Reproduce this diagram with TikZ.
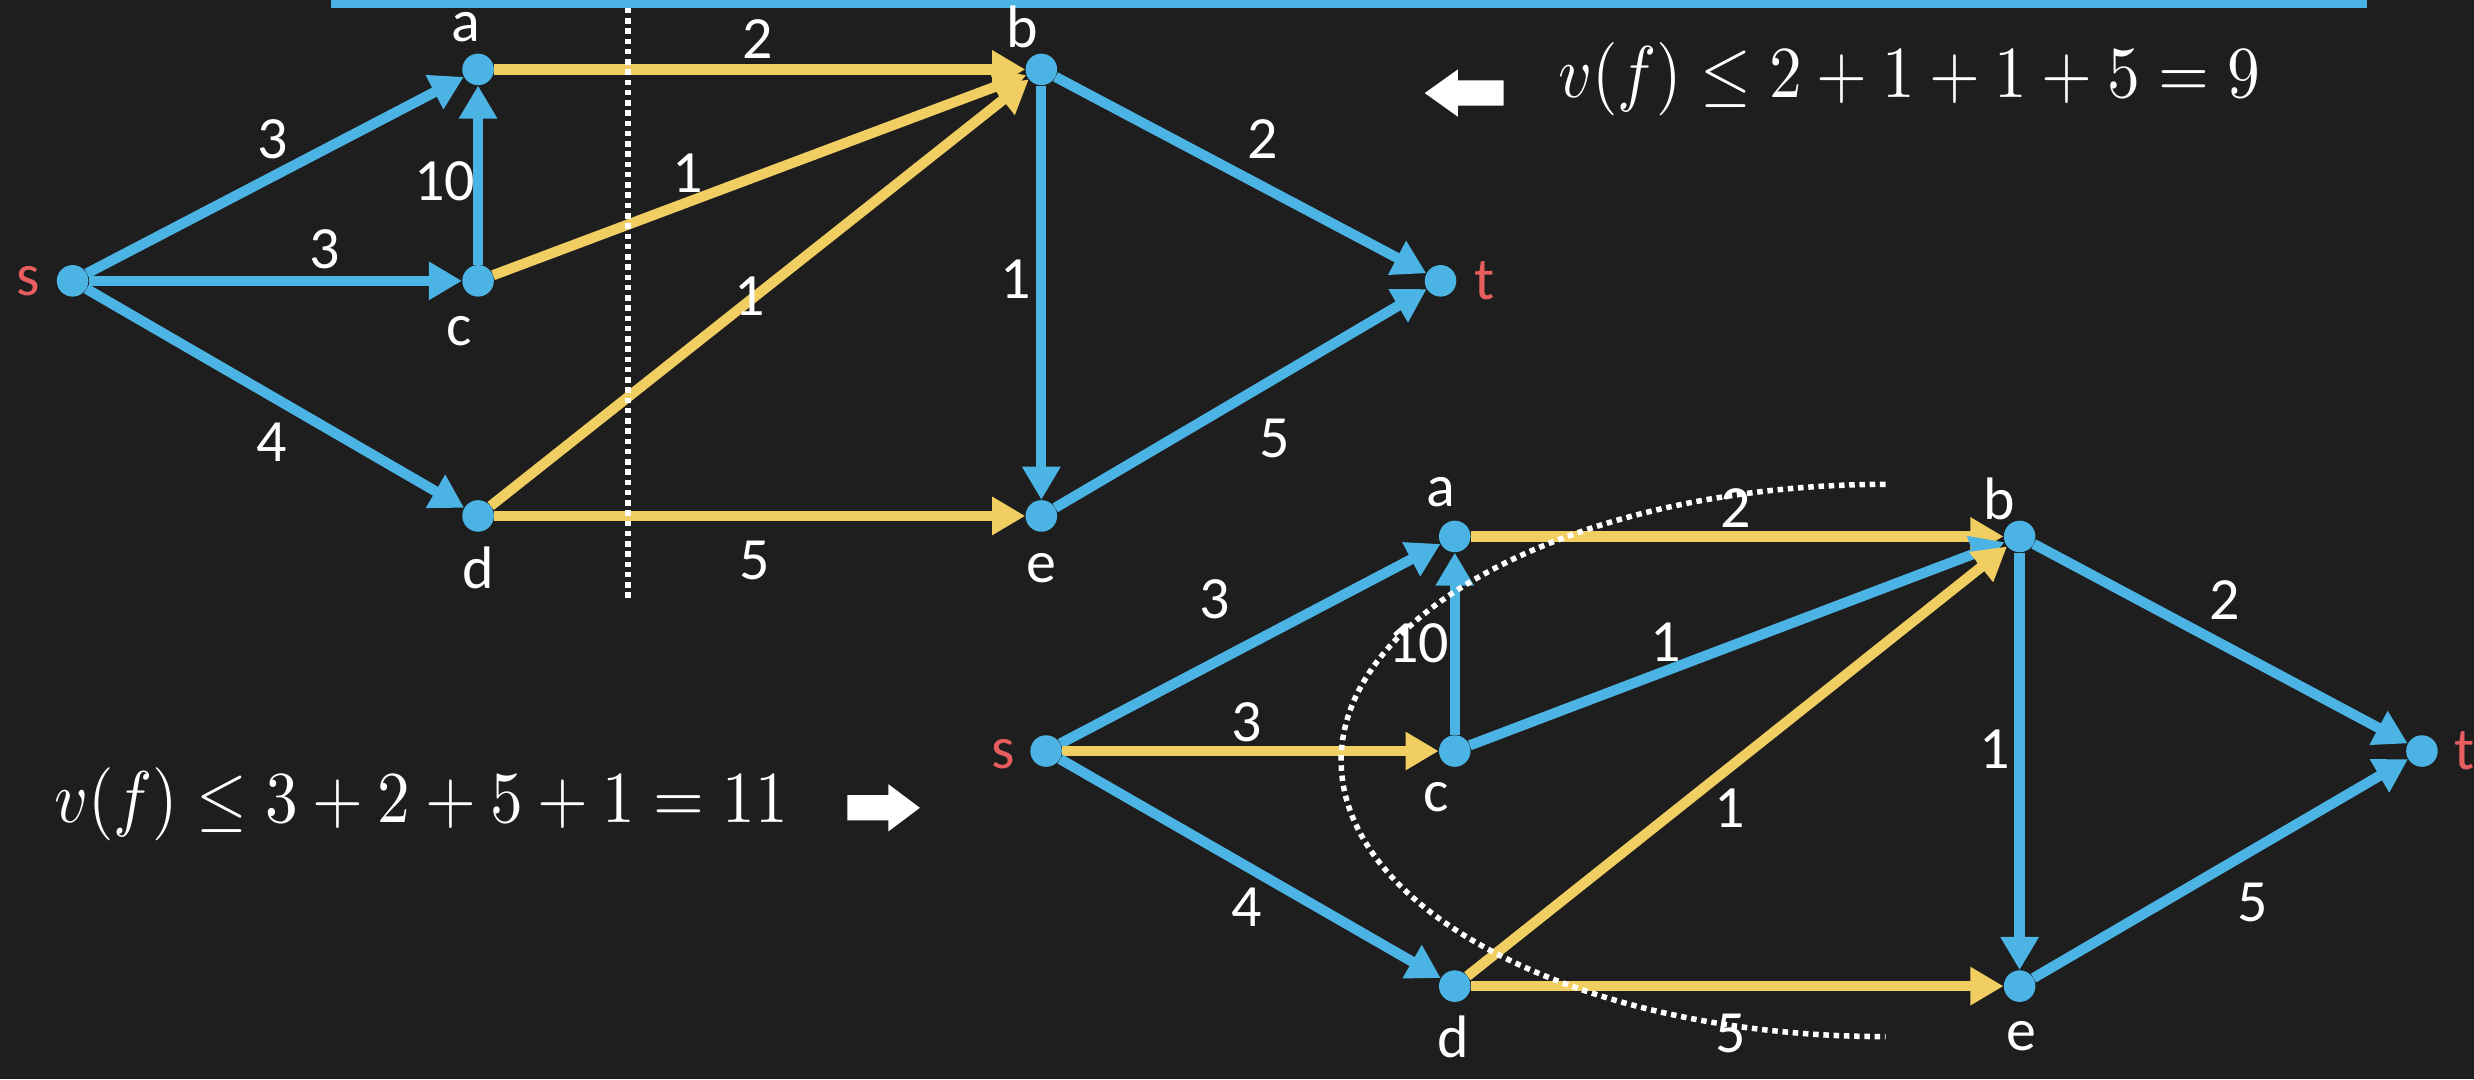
\documentclass[tikz,border=0pt]{standalone}
\usepackage{fontspec}
\newfontfamily\lab{Carlito}
\usetikzlibrary{arrows.meta}
\definecolor{bg}{RGB}{30,30,30}
\definecolor{eblue}{RGB}{76,180,228}
\definecolor{eyel}{RGB}{241,206,98}
\definecolor{sred}{RGB}{232,94,94}
\begin{document}
\begin{tikzpicture}[x=1pt,y=-1pt,
 vtx/.style={circle,fill=eblue,inner sep=0pt,minimum size=20pt},
 be/.style={draw=eblue,line width=6.5pt,-{Triangle[length=21pt,width=23pt]}},
 ye/.style={draw=eyel,line width=6.5pt,-{Triangle[length=21pt,width=23pt]}},
 vl/.style={text=white,font=\lab\fontsize{38}{40}\selectfont,inner sep=0pt},
 tl/.style={vl,text=sred},
 dots/.style={draw=white,line width=3.5pt,dash pattern=on 3.5pt off 3pt},
 frm/.style={text=white,inner sep=0pt}]
\fill[bg] (0,0) rectangle (1568,684);
\useasboundingbox (0,0) rectangle (1568,684);
\fill[eblue] (210,0) rectangle (1500,5);
% ---------- top graph ----------
\node[vtx] (s1) at (46,178) {};
\node[vtx] (a1) at (303,44) {};
\node[vtx] (c1) at (303,178) {};
\node[vtx] (d1) at (303,327) {};
\node[vtx] (b1) at (660,44) {};
\node[vtx] (e1) at (660,327) {};
\node[vtx] (t1) at (913,178) {};
\draw[be] (s1) -- (a1);
\draw[be] (s1) -- (c1);
\draw[be] (s1) -- (d1);
\draw[be] (c1) -- (a1);
\draw[ye] (a1) -- (b1);
\draw[ye] (c1) -- (b1);
\draw[ye] (d1) -- (b1);
\draw[ye] (d1) -- (e1);
\draw[be] (b1) -- (e1);
\draw[be] (b1) -- (t1);
\draw[be] (e1) -- (t1);
\node[tl] (ls1) at (18,178) {s};
\node[tl] (lt1) at (941,178) {t};
\node[vl] (la1) at (295,17) {a};
\node[vl] (lb1) at (648,17) {b};
\node[vl] (lc1) at (291,210) {c};
\node[vl] (ld1) at (303,360) {d};
\node[vl] (le1) at (660,360) {e};
\node[vl] (w1) at (173,88) {3};
\node[vl] (w2) at (282,115) {10};
\node[vl] (w3) at (206,158) {3};
\node[vl] (w4) at (172,280) {4};
\node[vl] (w5) at (480,25) {2};
\node[vl] (w6) at (436,110) {1};
\node[vl] (w7) at (475,188) {1};
\node[vl] (w8) at (644,177) {1};
\node[vl] (w9) at (800,88) {2};
\node[vl] (w10) at (808,278) {5};
\node[vl] (w11) at (478,355) {5};
\coordinate (v1) at (398,5);
\coordinate (v2) at (398,380);
\draw[dots] (v1) -- (v2);
% ---------- bottom graph ----------
\node[vtx] (s2) at (663,476) {};
\node[vtx] (a2) at (922,340) {};
\node[vtx] (c2) at (922,476) {};
\node[vtx] (d2) at (922,625) {};
\node[vtx] (b2) at (1280,340) {};
\node[vtx] (e2) at (1280,625) {};
\node[vtx] (t2) at (1535,476) {};
\draw[be] (s2) -- (a2);
\draw[ye] (s2) -- (c2);
\draw[be] (s2) -- (d2);
\draw[be] (c2) -- (a2);
\draw[ye] (a2) -- (b2);
\draw[be] (c2) -- (b2);
\draw[ye] (d2) -- (b2);
\draw[ye] (d2) -- (e2);
\draw[be] (b2) -- (e2);
\draw[be] (b2) -- (t2);
\draw[be] (e2) -- (t2);
\node[tl] (ls2) at (636,478) {s};
\node[tl] (lt2) at (1562,476) {t};
\node[vl] (la2) at (913,312) {a};
\node[vl] (lb2) at (1267,316) {b};
\node[vl] (lc2) at (910,505) {c};
\node[vl] (ld2) at (921,657) {d};
\node[vl] (le2) at (1281,657) {e};
\node[vl] (x1) at (770,380) {3};
\node[vl] (x2) at (899,408) {10};
\node[vl] (x3) at (790,458) {3};
\node[vl] (x4) at (790,575) {4};
\node[vl] (x5) at (1100,322) {2};
\node[vl] (x6) at (1056,407) {1};
\node[vl] (x7) at (1096,512) {1};
\node[vl] (x8) at (1264,475) {1};
\node[vl] (x9) at (1410,380) {2};
\node[vl] (x10) at (1428,572) {5};
\node[vl] (x11) at (1097,655) {5};
\coordinate (k1) at (1195,307);
\draw[dots] (k1) arc[start angle=270,end angle=90,x radius=345,y radius=175];
% ---------- formulas ----------
\node[frm] (f1) at (1210,50) {\resizebox{445pt}{!}{\scalebox{1}[1.12]{$v(f)\leq 2+1+1+5=9$}}};
\node[frm] (f2) at (267,510) {\resizebox{465pt}{!}{\scalebox{1}[1.12]{$v(f)\leq 3+2+5+1=11$}}};
\fill[white] (903,59) -- (924,44) -- (924,51) -- (953,51) -- (953,67) -- (924,67) -- (924,74) -- cycle;
\fill[white] (583,512) -- (563,497) -- (563,504) -- (537,504) -- (537,520) -- (563,520) -- (563,527) -- cycle;
\end{tikzpicture}
\end{document}
